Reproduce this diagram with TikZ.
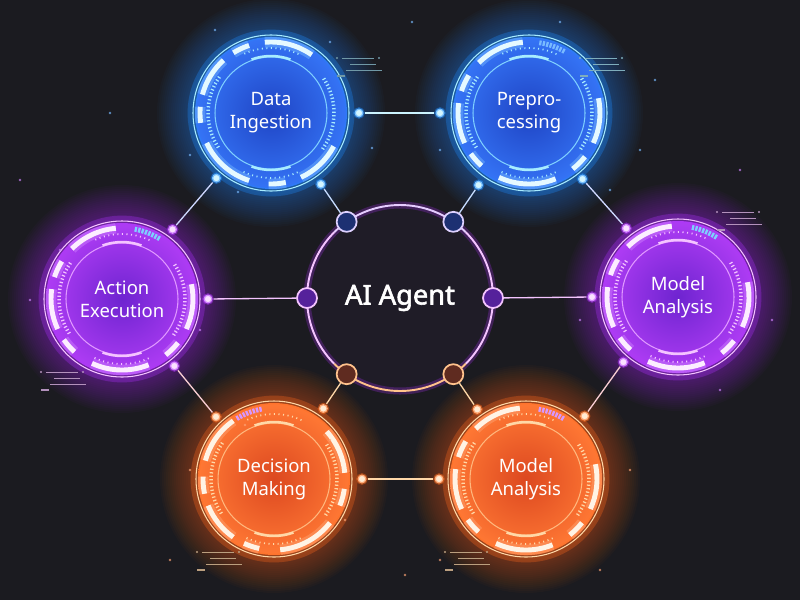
\documentclass[tikz,border=0pt]{standalone}
\usepackage{fontspec}
\setmainfont{Noto Sans}
\newfontfamily\corefont{Noto Sans}[FakeBold=2.2]

\definecolor{bgdark}{HTML}{1B1B20}
\definecolor{corefill}{HTML}{1F1C27}
\definecolor{bluefill}{HTML}{1F44C4}
\definecolor{blueedge}{HTML}{3574F6}
\definecolor{blueglow}{HTML}{1E8CFF}
\definecolor{bluelight}{HTML}{A8ECFF}
\definecolor{violetfill}{HTML}{6E24D0}
\definecolor{violetedge}{HTML}{AE3CF4}
\definecolor{violetglow}{HTML}{B030FF}
\definecolor{violetlight}{HTML}{F4C4FF}
\definecolor{orangefill}{HTML}{DC4820}
\definecolor{orangeedge}{HTML}{FF7834}
\definecolor{orangeglow}{HTML}{FF6A1A}
\definecolor{orangelight}{HTML}{FFD8A8}

\pgfdeclarelayer{back}
\pgfdeclarelayer{glow}
\pgfsetlayers{back,glow,main}

% glow, rings and ticks round one hub
\newcommand\hud[3]{% #1 hub, #2 palette, #3 turn of the arc pattern
  \begin{pgfonlayer}{glow}
    \foreach \r in {76,78,...,114}
      \fill[#2glow, opacity=0.028] (#1.center) circle (\r);
  \end{pgfonlayer}
  \begin{scope}[shift={(#1.center)}]
    \draw[#2glow, line width=5pt, opacity=0.3] (0,0) circle (79);
    \draw[#2light, line width=0.6pt] (0,0) circle (78);
    \begin{scope}[rotate=#3]
      \foreach \a/\b in {95/135,148/162,172/205,215/228,245/292,308/322,335/372}{
        \draw[#2glow!60!white, line width=6pt, opacity=0.45] (\a:71) arc[start angle=\a, end angle=\b, radius=71];
        \draw[#2light!30!white, line width=2.8pt] (\a:71) arc[start angle=\a, end angle=\b, radius=71];
      }
    \end{scope}
    \draw[#2light, line width=2pt, dash pattern=on 0.7pt off 1.3pt] (-35:63) arc[start angle=-35, end angle=35, radius=63];
    \draw[#2light, line width=2pt, dash pattern=on 0.7pt off 1.3pt] (145:63) arc[start angle=145, end angle=215, radius=63];
    \draw[#2light, line width=1pt, dash pattern=on 0.6pt off 2pt] (65:65) arc[start angle=65, end angle=115, radius=65];
    \draw[#2light, line width=1pt, dash pattern=on 0.6pt off 2pt] (245:65) arc[start angle=245, end angle=295, radius=65];
    \draw[#2light!70!#2glow, line width=0.6pt] (0,0) circle (56);
    \draw[#2light, line width=1.4pt] (70:57) arc[start angle=70, end angle=110, radius=57];
    \draw[#2light, line width=1.4pt] (250:57) arc[start angle=250, end angle=290, radius=57];
  \end{scope}}

% segmented "battery" arc on a hub
\newcommand\battery[3]{% #1 hub, #2 colour, #3 start angle
  \draw[#2, line width=2.8pt, dash pattern=on 1.3pt off 0.7pt]
    ([shift={(#3:71)}]#1.center) arc[start angle=#3, delta angle=22, radius=71];}

% small HUD readout lines
\newcommand\readout[2]{% #1 place, #2 colour
  \begin{scope}[shift={#1}, #2, line width=0.4pt]
    \draw (0,0) -- (32,0);
    \fill (-5,0) circle (1.2) (37,0) circle (1.2);
    \draw (8,-6) -- (34,-6);
    \draw (4,-12) -- (40,-12);
    \draw[line width=0.9pt] (-5,-18) -- (3,-18);
  \end{scope}}

\begin{document}
\begin{tikzpicture}[
  x=0.02cm, y=0.02cm,
  hub/.style={circle, minimum size=3.04cm, inner sep=0pt, align=center, text=white,
    font=\fontsize{10.5}{13}\selectfont, inner color=#1fill, outer color=#1edge},
  core/.style={circle, minimum size=3.72cm, inner sep=0pt, fill=corefill, text=white,
    font=\corefont\fontsize{15.5}{18}\selectfont},
  dot/.style={circle, minimum size=0.18cm, inner sep=0pt, fill=#1light!50!white,
    draw=#1glow, draw opacity=0.5, line width=1.4pt},
  port/.style 2 args={circle, minimum size=0.4cm, inner sep=0pt, line width=1pt, draw=#1, fill=#2},
  link/.style={line width=0.75pt, #1},
]

\begin{pgfonlayer}{back}
  \fill[bgdark] (0,0) rectangle (800,600);
\end{pgfonlayer}
\useasboundingbox (0,0) rectangle (800,600);

% Hubs
\node[hub=blue] (ingest) at (271,487) {Data\\Ingestion};
\node[hub=blue] (preproc) at (529,487) {Prepro-\\cessing};
\node[hub=violet] (action) at (122,301) {Action\\Execution};
\node[hub=violet] (modelr) at (678,303) {Model\\Analysis};
\node[hub=orange] (decide) at (274,121) {Decision\\Making};
\node[hub=orange] (modelb) at (526,121) {Model\\Analysis};

\hud{ingest}{blue}{-40}
\hud{preproc}{blue}{0}
\hud{action}{violet}{0}
\hud{modelr}{violet}{0}
\hud{decide}{orange}{30}
\hud{modelb}{orange}{0}

\battery{preproc}{blueglow!60!white}{60}
\battery{action}{bluelight!70!blueglow}{58}
\battery{modelr}{bluelight!70!blueglow}{57}
\battery{decide}{violetglow!50!white}{100}
\battery{modelb}{violetglow!50!white}{58}

% Core
\node[core] (agent) at (400,302) {AI Agent};
\draw[violetglow, line width=4pt, opacity=0.25] (agent.center) circle (93);
\draw[line width=1.1pt, violetlight!80!bluelight] ([shift={(45:93)}]agent.center) arc[start angle=45, end angle=135, radius=93];
\draw[line width=1.1pt, violetlight] ([shift={(135:93)}]agent.center) arc[start angle=135, end angle=225, radius=93];
\draw[line width=1.1pt, violetlight] ([shift={(-45:93)}]agent.center) arc[start angle=-45, end angle=45, radius=93];
\draw[line width=1.1pt, orangelight!80!orangeglow] ([shift={(225:93)}]agent.center) arc[start angle=225, end angle=315, radius=93];

% Ports on the core
\node[port={violetlight!70!bluelight}{bluefill!50!bgdark}] (agent-nw) at ([shift={(125:93)}]agent.center) {};
\node[port={violetlight!70!bluelight}{bluefill!50!bgdark}] (agent-ne) at ([shift={(55:93)}]agent.center) {};
\node[port={violetlight}{violetfill!70!bgdark}] (agent-w) at ([shift={(180:93)}]agent.center) {};
\node[port={violetlight}{violetfill!70!bgdark}] (agent-e) at ([shift={(0:93)}]agent.center) {};
\node[port={orangelight!80!orangeglow}{orangefill!35!bgdark}] (agent-sw) at ([shift={(235:93)}]agent.center) {};
\node[port={orangelight!80!orangeglow}{orangefill!35!bgdark}] (agent-se) at ([shift={(305:93)}]agent.center) {};

% Dots on the hubs
\node[dot=blue] (ingest-e) at ([shift={(0:88)}]ingest.center) {};
\node[dot=blue] (ingest-se) at ([shift={(-55:87)}]ingest.center) {};
\node[dot=blue] (ingest-sw) at ([shift={(-130:85)}]ingest.center) {};
\node[dot=blue] (preproc-w) at ([shift={(180:89)}]preproc.center) {};
\node[dot=blue] (preproc-sw) at ([shift={(-125:88)}]preproc.center) {};
\node[dot=blue] (preproc-se) at ([shift={(-51:85)}]preproc.center) {};
\node[dot=violet] (action-ne) at ([shift={(54:86)}]action.center) {};
\node[dot=violet] (action-e) at ([shift={(0:86)}]action.center) {};
\node[dot=violet] (action-se) at ([shift={(-52:85)}]action.center) {};
\node[dot=violet] (modelr-nw) at ([shift={(127:86)}]modelr.center) {};
\node[dot=violet] (modelr-w) at ([shift={(180:86)}]modelr.center) {};
\node[dot=violet] (modelr-sw) at ([shift={(-130:85)}]modelr.center) {};
\node[dot=orange] (decide-nw) at ([shift={(133:85)}]decide.center) {};
\node[dot=orange] (decide-ne) at ([shift={(55:86)}]decide.center) {};
\node[dot=orange] (decide-e) at ([shift={(0:88)}]decide.center) {};
\node[dot=orange] (modelb-w) at ([shift={(180:87)}]modelb.center) {};
\node[dot=orange] (modelb-nw) at ([shift={(125:85)}]modelb.center) {};
\node[dot=orange] (modelb-ne) at ([shift={(47:86)}]modelb.center) {};

% Links
\draw[link=bluelight!60!white] (ingest-e) -- (preproc-w);
\draw[link=bluelight!60!violetlight] (ingest-se) -- (agent-nw);
\draw[link=bluelight!60!violetlight] (preproc-sw) -- (agent-ne);
\draw[link=bluelight!50!violetlight] (ingest-sw) -- (action-ne);
\draw[link=bluelight!50!violetlight] (preproc-se) -- (modelr-nw);
\draw[link=violetlight] (action-e) -- (agent-w);
\draw[link=violetlight] (modelr-w) -- (agent-e);
\draw[link=violetlight!50!orangelight] (action-se) -- (decide-nw);
\draw[link=violetlight!50!orangelight] (modelr-sw) -- (modelb-ne);
\draw[link=orangelight] (decide-ne) -- (agent-sw);
\draw[link=orangelight] (modelb-nw) -- (agent-se);
\draw[link=orangelight] (decide-e) -- (modelb-w);

% Readouts and specks
\readout{(585,542)}{bluelight!70!bgdark}
\readout{(342,542)}{bluelight!60!bgdark}
\readout{(722,388)}{violetlight!70!bgdark}
\readout{(46,228)}{violetlight!70!bgdark}
\readout{(202,48)}{orangelight!70!bgdark}
\readout{(450,48)}{orangelight!70!bgdark}
\foreach \x/\y/\c in {215/570/blueglow, 330/558/blueglow, 412/578/blueglow, 560/578/blueglow,
    640/450/blueglow, 655/520/blueglow, 190/445/blueglow, 238/408/blueglow, 110/487/blueglow,
    372/452/blueglow, 440/450/blueglow, 610/410/blueglow, 740/430/violetglow, 772/280/violetglow,
    720/210/violetglow, 30/300/violetglow, 20/420/violetglow, 60/350/violetglow, 200/270/violetglow,
    580/280/violetglow, 245/175/orangeglow, 330/160/orangeglow, 600/30/orangeglow, 405/25/orangeglow,
    170/40/orangeglow, 440/40/orangeglow, 630/130/orangeglow, 190/130/orangeglow, 345/80/orangeglow}
  \fill[\c!60!white, opacity=0.7] (\x,\y) circle (1.4);

\end{tikzpicture}
\end{document}
